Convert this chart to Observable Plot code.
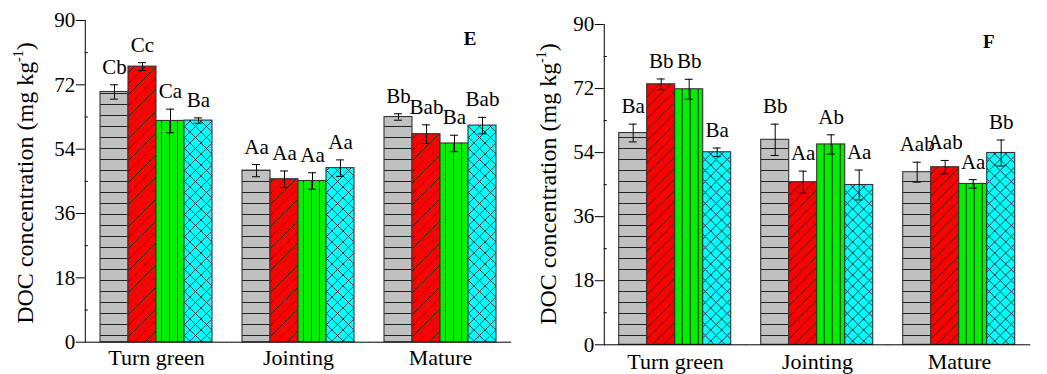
<!DOCTYPE html>
<html><head><meta charset="utf-8">
<script src="https://cdn.jsdelivr.net/npm/d3@7"></script>
<script src="https://cdn.jsdelivr.net/npm/@observablehq/plot@0.6"></script>
<style>
html,body{margin:0;padding:0;background:#fff;}
#chart{position:relative;width:1047px;height:374px;overflow:hidden;background:#fff;}
#chart svg.panel{position:absolute;top:0;}
</style></head><body>
<svg width="0" height="0" style="position:absolute;left:0;top:0">
<defs>
 <pattern id="p-gray" patternUnits="userSpaceOnUse" width="12" height="11">
   <rect width="12" height="11" fill="#c0c0c0"/>
   <line x1="0" y1="5.5" x2="12" y2="5.5" stroke="#222" stroke-width="1"/>
 </pattern>
 <pattern id="p-red" patternUnits="userSpaceOnUse" width="11" height="11">
   <rect width="11" height="11" fill="#ff0000"/>
   <path d="M-1,1 L1,-1 M0,11 L11,0 M10,12 L12,10" stroke="#222" stroke-width="0.9"/>
 </pattern>
 <pattern id="p-green" patternUnits="userSpaceOnUse" width="8" height="10">
   <rect width="8" height="10" fill="#00f000"/>
   <line x1="3.5" y1="0" x2="3.5" y2="10" stroke="#222" stroke-width="1"/>
 </pattern>
 <pattern id="p-cyan" patternUnits="userSpaceOnUse" width="11" height="11">
   <rect width="11" height="11" fill="#00ffff"/>
   <path d="M0,0 L11,11 M0,11 L11,0 M-1,1 L1,-1 M10,12 L12,10 M-1,10 L1,12 M10,-1 L12,1" stroke="#222" stroke-width="0.9"/>
 </pattern>
</defs></svg>
<div id="chart"></div>
<script>
// ---- data ----
const stages = ["Turn green", "Jointing", "Mature"];
const treatments = ["T1", "T2", "T3", "T4"];
const yTicks = [0, 18, 36, 54, 72, 90];
const yMinorTicks = [9, 27, 45, 63, 81];
const yTitle = "DOC concentration (mg kg";
const yTitleSup = "-1";

const valuesE = [[70.0, 77.1, 61.9, 62.0], [48.0, 45.6, 45.1, 48.7], [63.0, 58.2, 55.6, 60.6]];
const errorsE = [[2.0, 1.1, 3.3, 0.75], [1.7, 2.3, 2.3, 2.3], [0.9, 2.6, 2.3, 2.3]];
const lettersE = [["Cb", "Cc", "Ca", "Ba"], ["Aa", "Aa", "Aa", "Aa"], ["Bb", "Bab", "Ba", "Bab"]];

const valuesF = [[59.5, 73.2, 71.8, 54.1], [57.6, 45.7, 56.3, 44.9], [48.5, 49.9, 45.2, 53.9]];
const errorsF = [[2.5, 1.5, 2.8, 1.2], [4.4, 3.1, 2.7, 4.2], [2.8, 1.9, 1.2, 3.65]];
const lettersF = [["Ba", "Bb", "Bb", "Ba"], ["Bb", "Aa", "Ab", "Aa"], ["Aab", "Aab", "Aa", "Bb"]];

const patternFills = ["url(#p-gray)", "url(#p-red)", "url(#p-green)", "url(#p-cyan)"];
const FONT = "Liberation Serif, Times New Roman, Times, serif";

function panel(values, errors, letters, panelLabel, o) {
  const rows = [];
  stages.forEach((s, i) => treatments.forEach((t, j) => rows.push({
    stage: s, treatment: t, value: values[i][j], err: errors[i][j], letter: letters[i][j]
  })));
  const half = (o.width - o.marginLeft - o.marginRight) / 3 * 0.1;
  const svg = Plot.plot({
    width: o.width, height: 374,
    marginLeft: o.marginLeft, marginRight: o.marginRight,
    marginTop: o.marginTop, marginBottom: o.marginBottom,
    style: {fontFamily: FONT, fontSize: "21px", color: "#000", background: "transparent", overflow: "visible"},
    fx: {domain: stages, paddingInner: 0.2, paddingOuter: 0.1, axis: null, label: null},
    x: {domain: treatments, padding: 0, axis: null},
    y: {domain: [0, 90], axis: null},
    color: {type: "ordinal", domain: treatments, range: patternFills},
    marks: [
      Plot.barY(rows, {fx: "stage", x: "treatment", y: "value", fill: "treatment", stroke: "#333", strokeWidth: 1.1}),
      Plot.ruleX(rows, {fx: "stage", x: "treatment", y1: d => d.value - d.err, y2: d => d.value + d.err, stroke: "#000", strokeWidth: 1}),
      Plot.tickY(rows, {fx: "stage", x: "treatment", y: d => d.value + d.err, stroke: "#000", insetLeft: 10, insetRight: 10}),
      Plot.tickY(rows, {fx: "stage", x: "treatment", y: d => d.value - d.err, stroke: "#000", insetLeft: 10, insetRight: 10}),
      Plot.text(rows, {fx: "stage", x: "treatment", y: d => d.value + d.err, text: "letter", lineAnchor: "bottom", dy: -11, fontSize: 21, fill: "#000"}),
      Plot.ruleY([0], {stroke: "#000", strokeWidth: 1, insetLeft: -half, insetRight: -half}),
      Plot.axisY({ticks: yTicks, tickSize: 9, tickPadding: 1, fontSize: 21, label: null, dx: -half}),
      Plot.axisY({ticks: yMinorTicks, tickSize: -3, tickFormat: () => "", label: null, dx: -half}),
      Plot.frame({anchor: "left", facetAnchor: "left", dx: -half, stroke: "#000"}),
      Plot.axisFx({anchor: "bottom", tickSize: 0, tickPadding: o.fxPad, fontSize: 22, label: null}),
      Plot.text([panelLabel], {fx: () => stages[2], frameAnchor: "top-right", lineAnchor: "top", dx: o.labelDx, dy: o.labelDy, fontWeight: "bold", fontSize: 19})
    ]
  });
  svg.classList.add("panel");
  svg.style.left = o.left + "px";
  const t = d3.select(svg).append("text")
    .attr("transform", `translate(${o.titleX},${o.titleY}) rotate(-90)`)
    .attr("text-anchor", "middle")
    .style("font-family", FONT)
    .style("font-size", "24px")
    .attr("fill", "#000");
  t.append("tspan").text(yTitle);
  t.append("tspan").style("font-size", "14px").attr("dy", -10).text(yTitleSup);
  t.append("tspan").attr("dy", 10).text(")");
  return svg;
}

const chart = document.getElementById("chart");
chart.appendChild(panel(valuesE, errorsE, lettersE, "E", {
  left: 0, width: 520, marginLeft: 85, marginRight: 9, marginTop: 20, marginBottom: 32.3,
  fxPad: 7.5, labelDx: -21, labelDy: 11, titleX: 33, titleY: 183
}));
chart.appendChild(panel(valuesF, errorsF, lettersF, "F", {
  left: 520, width: 527, marginLeft: 83.3, marginRight: 17, marginTop: 24, marginBottom: 29.7,
  fxPad: 9, labelDx: -22, labelDy: 10, titleX: 36, titleY: 184
}));
</script>
</body></html>
